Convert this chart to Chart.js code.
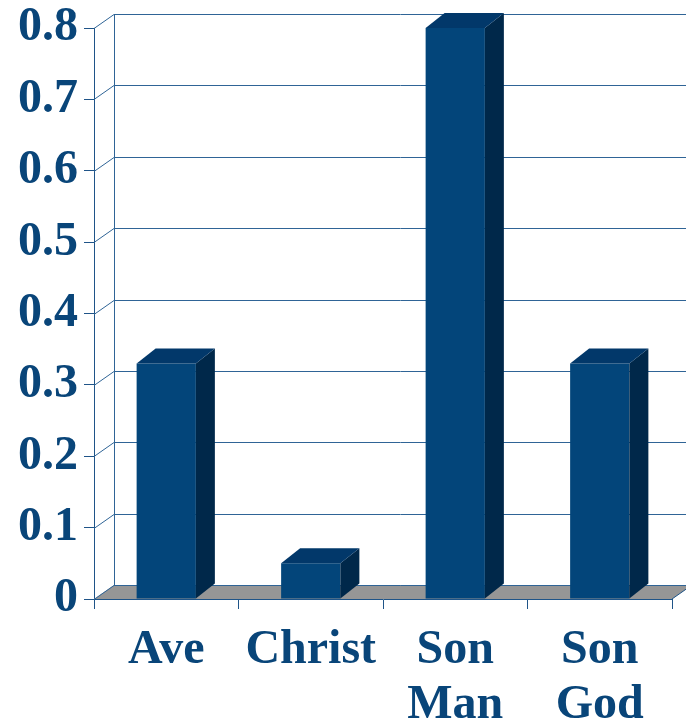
<!DOCTYPE html>
<html>
<head>
<meta charset="utf-8">
<script src="https://cdn.jsdelivr.net/npm/chart.js@4/dist/chart.umd.min.js"></script>
<style>
  html, body { margin: 0; padding: 0; background: #ffffff; }
  #wrap { width: 686px; height: 723px; position: relative; }
</style>
</head>
<body>
<div id="wrap"><canvas id="c" width="686" height="723"></canvas></div>
<script>
// ---- data ----
const categories = [['Ave'], ['Christ'], ['Son', 'Man'], ['Son', 'God']];
const values = [0.33, 0.05, 0.80, 0.33];
const yTickLabels = ['0', '0.1', '0.2', '0.3', '0.4', '0.5', '0.6', '0.7', '0.8'];

// ---- styles ----
const textColor = '#094579';
const axisColor = '#1f5488';
const gridColor = '#2f6496';
const frontColor = '#03457a';
const topColor = '#02386a';
const sideColor = '#00284a';
const floorColor = '#969696';
const wallDx = 20, wallDy = -14;
const barDx = 19, barDy = -15;

const threeD = {
  id: 'threeD',
  beforeDatasetsDraw(chart) {
    const { ctx, chartArea: a, scales: { y } } = chart;
    const y0 = y.getPixelForValue(0);
    ctx.save();
    // floor
    ctx.fillStyle = floorColor;
    ctx.beginPath();
    ctx.moveTo(a.left, y0);
    ctx.lineTo(a.left + wallDx, y0 + wallDy);
    ctx.lineTo(a.right + wallDx, y0 + wallDy);
    ctx.lineTo(a.right, y0);
    ctx.closePath();
    ctx.fill();
    // back wall grid lines + side connectors
    ctx.strokeStyle = gridColor;
    ctx.lineWidth = 1;
    y.ticks.forEach(t => {
      const py = Math.round(y.getPixelForValue(t.value)) + 0.5;
      ctx.beginPath();
      ctx.moveTo(a.left, py);
      ctx.lineTo(a.left + wallDx, py + wallDy);
      ctx.lineTo(chart.width + 5, py + wallDy);
      ctx.stroke();
    });
    // back vertical edge
    const bx = Math.round(a.left + wallDx) + 0.5;
    ctx.beginPath();
    ctx.moveTo(bx, Math.round(a.top + wallDy) + 0.5);
    ctx.lineTo(bx, Math.round(y0 + wallDy) + 0.5);
    ctx.stroke();
    // floor right edge
    ctx.strokeStyle = axisColor;
    ctx.beginPath();
    ctx.moveTo(a.right, y0);
    ctx.lineTo(a.right + wallDx, y0 + wallDy);
    ctx.stroke();
    ctx.restore();
  },
  afterDatasetsDraw(chart) {
    const { ctx } = chart;
    const meta = chart.getDatasetMeta(0);
    ctx.save();
    meta.data.forEach(bar => {
      const p = bar.getProps(['x', 'y', 'base', 'width'], true);
      const x1 = p.x - p.width / 2, x2 = p.x + p.width / 2;
      const top = p.y, base = p.base;
      // side face
      ctx.fillStyle = sideColor;
      ctx.beginPath();
      ctx.moveTo(x2, top);
      ctx.lineTo(x2 + barDx, top + barDy);
      ctx.lineTo(x2 + barDx, base + barDy);
      ctx.lineTo(x2, base);
      ctx.closePath();
      ctx.fill();
      // top face
      ctx.fillStyle = topColor;
      ctx.beginPath();
      ctx.moveTo(x1, top);
      ctx.lineTo(x1 + barDx, top + barDy);
      ctx.lineTo(x2 + barDx, top + barDy);
      ctx.lineTo(x2, top);
      ctx.closePath();
      ctx.fill();
    });
    ctx.restore();
  }
};

new Chart(document.getElementById('c'), {
  type: 'bar',
  data: {
    labels: categories,
    datasets: [{
      data: values,
      backgroundColor: frontColor,
      borderWidth: 0,
      barPercentage: 0.41,
      categoryPercentage: 1.0
    }]
  },
  options: {
    responsive: false,
    animation: false,
    devicePixelRatio: 1,
    layout: { padding: { top: 28, right: 14, left: 0, bottom: 0 } },
    plugins: { legend: { display: false }, tooltip: { enabled: false } },
    scales: {
      x: {
        grid: { display: true, drawOnChartArea: false, drawTicks: true, tickLength: 10, color: axisColor, offset: true },
        border: { display: true, color: axisColor, width: 1 },
        ticks: {
          color: textColor,
          padding: 14,
          maxRotation: 0,
          autoSkip: false,
          font: { family: '"Liberation Serif", "Times New Roman", serif', size: 48, weight: 'bold', lineHeight: 1.15 }
        },
        afterFit(s) { s.height = 124; }
      },
      y: {
        min: 0,
        max: 0.8,
        ticks: {
          stepSize: 0.1,
          color: textColor,
          padding: 6,
          font: { family: '"Liberation Serif", "Times New Roman", serif', size: 48, weight: 'bold' },
          callback: (v, i) => yTickLabels[i]
        },
        grid: { display: true, drawOnChartArea: false, drawTicks: true, tickLength: 10, color: axisColor },
        border: { display: true, color: axisColor, width: 1 },
        afterFit(s) { s.width = 94; s.paddingTop = 0; s.paddingBottom = 0; }
      }
    }
  },
  plugins: [threeD]
});
</script>
</body>
</html>
